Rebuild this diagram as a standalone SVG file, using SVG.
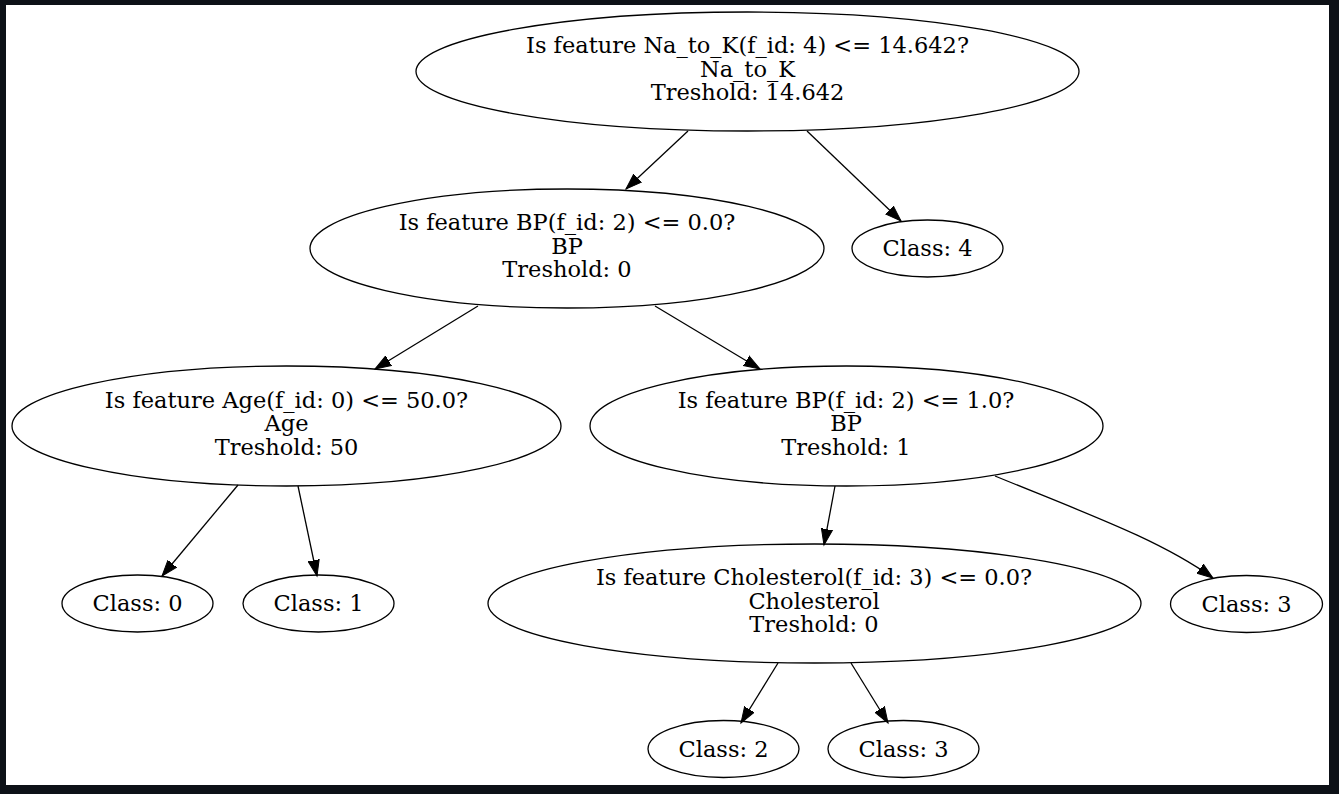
<svg xmlns="http://www.w3.org/2000/svg" width="1339" height="794" viewBox="0 0 1339 794">
<style>
.n ellipse{fill:none;stroke:#000;stroke-width:1.3}
.n text{font-family:"DejaVu Serif","Liberation Serif",serif;font-size:22.5px;fill:#000;text-anchor:middle}
.e path{fill:none;stroke:#000;stroke-width:1.3}
</style>
<defs>
<marker id="ah" markerUnits="userSpaceOnUse" markerWidth="18" markerHeight="14" refX="16" refY="6" orient="auto" viewBox="0 0 18 12">
<path d="M0,0.4 L16,6 L0,11.6 z" fill="#000" stroke="#000" stroke-width="1"/>
</marker>
</defs>
<rect x="0" y="0" width="1339" height="794" fill="#0d1117"/>
<rect x="6" y="5" width="1323" height="780" fill="#fff"/>
<g class="e">
<path d="M688,131 L626,189" marker-end="url(#ah)"/>
<path d="M807,131 L901,221" marker-end="url(#ah)"/>
<path d="M478,306 L375,369" marker-end="url(#ah)"/>
<path d="M655,306 L760,369" marker-end="url(#ah)"/>
<path d="M238,485 L162,576" marker-end="url(#ah)"/>
<path d="M298,486 L317,576" marker-end="url(#ah)"/>
<path d="M835,486 L824,545" marker-end="url(#ah)"/>
<path d="M995,476 C1090,515 1160,540 1213,578" marker-end="url(#ah)"/>
<path d="M778,663 L741,723" marker-end="url(#ah)"/>
<path d="M851,663 L888,723" marker-end="url(#ah)"/>
</g>
<g id="n_root" class="n">
<ellipse cx="747.5" cy="71.5" rx="331.5" ry="59.5"/>
<text x="747.5" y="53">Is feature Na_to_K(f_id: 4) &lt;= 14.642?</text>
<text x="747.5" y="76.5">Na_to_K</text>
<text x="747.5" y="100">Treshold: 14.642</text>
</g>
<g id="n_bp0" class="n">
<ellipse cx="567" cy="248.5" rx="257" ry="59.5"/>
<text x="567" y="230">Is feature BP(f_id: 2) &lt;= 0.0?</text>
<text x="567" y="253.5">BP</text>
<text x="567" y="277">Treshold: 0</text>
</g>
<g id="n_c4" class="n">
<ellipse cx="927.5" cy="248.5" rx="75.5" ry="28.5"/>
<text x="927.5" y="256">Class: 4</text>
</g>
<g id="n_age" class="n">
<ellipse cx="286.5" cy="426" rx="274.5" ry="60"/>
<text x="286.5" y="407.5">Is feature Age(f_id: 0) &lt;= 50.0?</text>
<text x="286.5" y="431">Age</text>
<text x="286.5" y="454.5">Treshold: 50</text>
</g>
<g id="n_bp1" class="n">
<ellipse cx="846.5" cy="426" rx="256.5" ry="60"/>
<text x="846" y="407.5">Is feature BP(f_id: 2) &lt;= 1.0?</text>
<text x="846" y="431">BP</text>
<text x="846" y="454.5">Treshold: 1</text>
</g>
<g id="n_c0" class="n">
<ellipse cx="137.5" cy="603.5" rx="75.5" ry="28.5"/>
<text x="137.5" y="611">Class: 0</text>
</g>
<g id="n_c1" class="n">
<ellipse cx="318.5" cy="603.5" rx="75.5" ry="28.5"/>
<text x="318.5" y="611">Class: 1</text>
</g>
<g id="n_chol" class="n">
<ellipse cx="814.5" cy="603.5" rx="326.5" ry="59.5"/>
<text x="814" y="585">Is feature Cholesterol(f_id: 3) &lt;= 0.0?</text>
<text x="814" y="608.5">Cholesterol</text>
<text x="814" y="632">Treshold: 0</text>
</g>
<g id="n_c3a" class="n">
<ellipse cx="1246.5" cy="604" rx="76" ry="28.5"/>
<text x="1246.5" y="611.5">Class: 3</text>
</g>
<g id="n_c2" class="n">
<ellipse cx="723.5" cy="749" rx="75.5" ry="28.5"/>
<text x="723.5" y="756.5">Class: 2</text>
</g>
<g id="n_c3b" class="n">
<ellipse cx="903.5" cy="749" rx="75.5" ry="28.5"/>
<text x="903.5" y="756.5">Class: 3</text>
</g>
</svg>
